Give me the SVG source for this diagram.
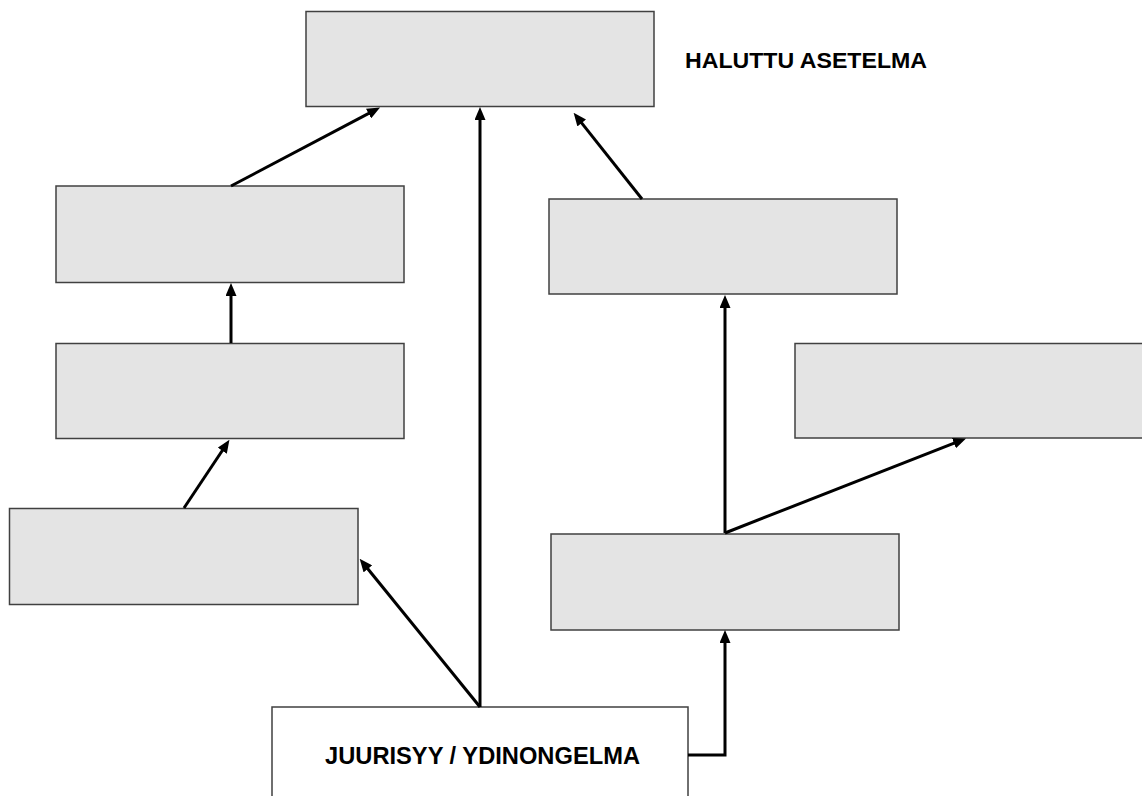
<svg xmlns="http://www.w3.org/2000/svg" width="1142" height="796" viewBox="0 0 1142 796">
  <style>
    .box { fill: #e4e4e4; stroke: #404040; stroke-width: 1.5; }
    .root { fill: #ffffff; stroke: #404040; stroke-width: 1.5; }
    .link { fill: none; stroke: #000000; stroke-width: 3; stroke-linecap: butt; stroke-linejoin: miter; }
    .label { font-family: "Liberation Sans", Arial, sans-serif; font-weight: bold; fill: #000000; }
  </style>
  <defs>
    <marker id="head" viewBox="0 0 13 11" refX="5" refY="5.5" markerWidth="13" markerHeight="11" markerUnits="userSpaceOnUse" orient="auto">
      <path d="M0,0 L13,5.5 L0,11 z" fill="#000000"/>
    </marker>
  </defs>
  <rect width="1142" height="796" fill="#ffffff"/>

  <!-- goal -->
  <g id="goal">
    <rect class="box" x="306" y="11.5" width="348" height="95"/>
  </g>
  <text class="label" x="685" y="68" font-size="22.5" textLength="242" lengthAdjust="spacingAndGlyphs">HALUTTU ASETELMA</text>

  <!-- left chain -->
  <g id="left-top">
    <rect class="box" x="56" y="186" width="348" height="96.5"/>
  </g>
  <g id="left-mid">
    <rect class="box" x="56" y="343.5" width="348" height="95"/>
  </g>
  <g id="left-low">
    <rect class="box" x="9.5" y="508.5" width="348.5" height="96"/>
  </g>

  <!-- right chain -->
  <g id="right-top">
    <rect class="box" x="549" y="199" width="348" height="95"/>
  </g>
  <g id="right-side">
    <rect class="box" x="795" y="343.5" width="360" height="94.5"/>
  </g>
  <g id="right-low">
    <rect class="box" x="551" y="534" width="348" height="96"/>
  </g>

  <!-- root cause -->
  <g id="root">
    <rect class="root" x="272" y="707" width="416" height="100"/>
    <text class="label" x="325" y="764" font-size="23.3" textLength="315" lengthAdjust="spacingAndGlyphs">JUURISYY / YDINONGELMA</text>
  </g>

  <!-- connectors -->
  <g id="connectors">
    <line class="link" x1="231" y1="186" x2="373.0" y2="111.2" marker-end="url(#head)"/>
    <line class="link" x1="480" y1="707" x2="480" y2="115" marker-end="url(#head)"/>
    <line class="link" x1="642" y1="199" x2="578.6" y2="119.1" marker-end="url(#head)"/>
    <line class="link" x1="231" y1="343" x2="231" y2="291" marker-end="url(#head)"/>
    <line class="link" x1="184" y1="508" x2="225.0" y2="446.5" marker-end="url(#head)"/>
    <line class="link" x1="480" y1="707" x2="364.7" y2="565" marker-end="url(#head)"/>
    <polyline class="link" points="688,755 725,755 725,638" marker-end="url(#head)"/>
    <line class="link" x1="725" y1="533" x2="725" y2="303" marker-end="url(#head)"/>
    <line class="link" x1="725" y1="533" x2="958.6" y2="441.3" marker-end="url(#head)"/>
  </g>
</svg>
